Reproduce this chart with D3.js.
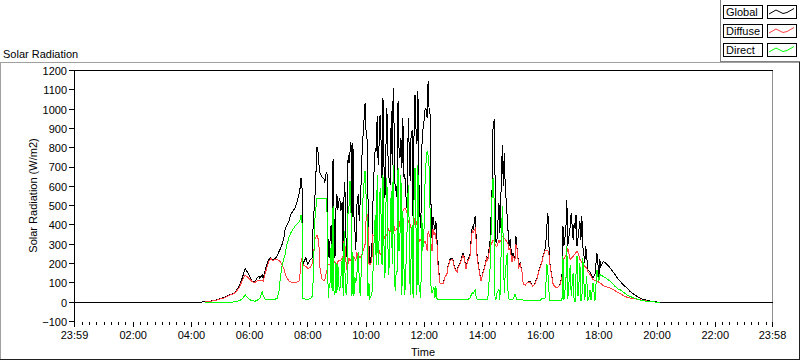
<!DOCTYPE html>
<html><head><meta charset="utf-8">
<script src="https://cdn.jsdelivr.net/npm/d3@7"></script>
<style>
html,body{margin:0;padding:0;background:#fff;}
svg{display:block;}
text{font-family:"Liberation Sans",Arial,sans-serif;font-size:11px;fill:#000;}
</style></head><body>
<svg id="c" width="800" height="361"></svg>
<script>
// time in minutes since midnight (23:59 of previous day = -1)
const times=[-1,258,268,278,289,299,309,320,326,332,338,342,346,351,353,357,361,365,371,375,379,381,386,388,392,396,400,404,408,412,417,421,423,427,431,433,437,441,445,450,454,458,462,464,466,468,470,472,476,480,485,489,491,495,499,501,503,505,509,513,515,518,520,522,524,526,528,530,532,534,536,538,540,542,544,546,548,551,553,555,557,559,561,563,565,567,569,571,573,575,577,579,581,584,586,588,590,592,594,596,598,600,602,604,606,608,612,614,616,619,621,623,625,627,629,631,633,635,637,639,641,643,645,647,650,652,654,656,658,660,662,664,666,668,670,672,674,676,678,680,682,685,687,689,691,693,695,697,699,701,703,705,707,709,711,713,715,717,720,722,724,726,728,730,732,734,736,738,740,742,744,746,748,752,759,763,767,769,773,777,779,783,788,790,794,798,800,802,806,810,814,819,821,825,827,829,833,837,841,845,849,851,856,860,862,864,866,868,870,874,876,881,883,885,887,891,893,895,897,901,903,907,909,911,915,918,922,924,928,932,934,938,942,944,948,953,955,959,963,965,969,971,973,975,977,979,983,986,990,994,1000,1004,1006,1008,1012,1014,1016,1021,1023,1027,1029,1031,1033,1035,1037,1039,1041,1043,1045,1047,1051,1053,1055,1057,1060,1062,1064,1068,1072,1076,1078,1080,1082,1084,1089,1093,1099,1103,1107,1113,1119,1124,1128,1134,1140,1144,1148,1155,1161,1165,1171,1179,1186,1192,1200,1206,1438];
const globalRad=[0,0,2,5,10,18,25,40,45,58,80,105,135,175,165,150,130,110,105,125,135,125,140,120,165,200,222,230,215,225,240,265,275,300,340,375,400,420,455,475,490,520,560,590,645,600,200,210,230,195,220,230,400,560,805,780,710,670,650,640,620,675,660,260,230,330,400,280,740,430,230,480,560,480,520,540,470,520,200,620,560,300,230,760,720,780,830,420,825,450,380,270,500,560,420,520,620,780,870,950,1030,890,850,550,300,195,264,489,650,800,782,964,713,820,972,834,644,1058,713,540,800,1006,782,650,609,989,713,1110,900,575,600,540,1041,800,748,850,696,954,650,661,560,471,954,800,627,880,886,420,870,1075,900,817,1093,627,450,385,800,886,950,1006,1000,954,1145,1000,972,500,333,441,400,372,420,342,230,100,97,134,152,186,221,229,221,177,160,186,203,238,255,238,177,221,238,393,376,445,342,238,169,108,152,186,238,221,325,601,929,938,652,307,325,515,360,816,601,773,601,445,360,290,325,221,255,221,342,290,186,203,152,95,88,100,105,108,90,83,95,130,152,186,215,238,273,320,400,462,300,203,134,91,80,74,91,134,393,290,376,531,290,393,462,324,411,380,454,290,330,376,419,324,445,290,203,290,240,169,160,155,143,125,143,255,203,117,221,186,212,205,190,178,165,145,122,109,96,82,70,57,48,36,27,22,14,10,5,3,1,0,0];
const diffuseRad=[null,null,1,4,9,16,23,37,42,54,74,95,118,140,135,128,118,106,102,110,113,110,113,110,148,183,212,226,213,221,222,215,210,195,170,150,125,110,105,103,103,105,110,150,210,230,200,190,185,175,180,200,230,330,345,330,290,180,120,113,115,150,170,195,195,195,200,200,210,215,205,200,195,210,215,215,215,230,190,345,280,200,165,200,230,215,220,220,230,235,225,215,260,225,235,230,240,250,265,280,300,420,460,400,200,195,210,350,345,340,350,368,298,270,247,255,264,350,340,330,340,350,385,370,368,380,385,420,390,368,375,385,368,390,420,445,471,471,480,488,480,460,420,410,402,385,368,350,400,437,420,402,350,330,316,320,350,298,310,316,300,264,368,350,340,300,264,380,350,360,330,320,203,100,97,130,148,180,215,222,215,172,155,180,198,230,245,232,172,215,230,370,360,380,320,232,165,108,150,182,230,215,290,310,320,320,300,290,290,320,310,340,335,330,325,310,300,270,280,210,240,215,300,280,182,195,150,95,88,100,103,105,88,82,93,125,148,180,212,235,265,268,268,265,250,200,130,90,80,74,90,130,221,225,240,255,280,221,228,238,245,250,258,264,255,240,221,215,205,195,185,180,178,160,150,143,135,117,112,108,106,104,100,98,86,82,76,74,68,60,50,45,38,30,24,22,19,17,15,12,10,6,5,2,0,0,null];
const directRad=[null,null,0,0,0,0,0,0,1,3,8,12,20,40,30,20,12,8,5,10,15,20,55,35,15,12,12,12,12,15,20,60,120,190,230,245,300,335,360,380,395,405,415,425,450,420,20,18,15,15,18,30,110,450,540,535,535,535,535,535,535,535,450,20,80,100,300,60,500,60,40,210,50,200,80,60,120,230,30,370,110,40,100,480,500,625,480,30,260,30,130,100,140,260,120,30,150,260,570,620,680,560,450,30,100,22,39,125,281,454,195,661,195,333,592,450,195,661,300,125,506,644,300,143,420,575,200,713,300,56,150,160,696,264,350,661,39,471,200,39,160,402,609,400,39,247,400,22,540,696,400,39,713,91,60,22,454,264,400,661,731,782,760,700,480,80,49,60,80,20,82,20,15,15,15,15,15,15,15,15,15,15,15,15,15,15,15,15,15,15,20,49,45,65,30,15,15,15,15,15,15,15,186,566,644,532,14,14,49,65,14,497,307,49,150,255,30,15,15,15,15,40,30,15,15,15,15,10,10,10,10,10,10,10,10,10,10,10,20,20,20,100,195,150,60,10,8,8,8,8,8,10,238,14,100,290,14,194,31,152,5,5,150,238,31,100,203,10,10,229,10,80,134,5,30,65,10,100,5,169,134,110,143,140,134,128,117,110,100,83,69,64,57,45,35,30,26,19,14,11,7,5,3,2,0,0,null];

const yTicks=[-100,0,100,200,300,400,500,600,700,800,900,1000,1100,1200];
const xTickMinutes=[-1,120,240,360,480,600,720,840,960,1080,1200,1320,1438];
const xTickLabels=["23:59","02:00","04:00","06:00","08:00","10:00","12:00","14:00","16:00","18:00","20:00","22:00","23:58"];
const xMinorMinutes=d3.range(0,1440,15).filter(m=>m%120!==0||m===0);
const seriesNames=["Global","Diffuse","Direct"];
const seriesColors=["#000000","#ff4040","#00ff00"];

const svg=d3.select("#c");
const plot={left:74,right:772,top:70,bottom:321};
const x=d3.scaleLinear().domain([-1,1438]).range([plot.left,plot.right]);
const y=d3.scaleLinear().domain([-100,1200]).range([plot.bottom,plot.top]);

// outer panel frame
const frame=svg.append("g").attr("shape-rendering","crispEdges");
frame.append("line").attr("x1",0).attr("x2",800).attr("y1",62.5).attr("y2",62.5).attr("stroke","#a0a0a0");
frame.append("line").attr("x1",0.5).attr("x2",0.5).attr("y1",62).attr("y2",360).attr("stroke","#a0a0a0");
frame.append("line").attr("x1",0).attr("x2",800).attr("y1",359.5).attr("y2",359.5).attr("stroke","#202020");
frame.append("line").attr("x1",799.5).attr("x2",799.5).attr("y1",62).attr("y2",360).attr("stroke","#202020");

// legend panel
const lg=svg.append("g").attr("shape-rendering","crispEdges");
lg.append("rect").attr("x",720).attr("y",0).attr("width",80).attr("height",62).attr("fill","#fff");
lg.append("line").attr("x1",720.5).attr("x2",720.5).attr("y1",0).attr("y2",62).attr("stroke","#808080");
lg.append("line").attr("x1",720).attr("x2",800).attr("y1",61.5).attr("y2",61.5).attr("stroke","#808080");
seriesNames.forEach((n,i)=>{
  const top=5+i*19;
  lg.append("rect").attr("x",723.5).attr("y",top+0.5).attr("width",39).attr("height",13).attr("fill","#fff").attr("stroke","#000");
  lg.append("text").attr("x",726).attr("y",top+11).attr("shape-rendering","auto").text(n);
  lg.append("rect").attr("x",767.5).attr("y",top+0.5).attr("width",29).attr("height",13).attr("fill","#fff").attr("stroke","#000");
  const zz=[[2,9],[9,5],[16,8.5],[20,7.5],[27,3.5]].map(p=>[767+p[0],top+p[1]]);
  svg.append("path").attr("d",d3.line()(zz)).attr("fill","none").attr("stroke",seriesColors[i]).attr("stroke-width",1);
});

// titles
svg.append("text").attr("x",3).attr("y",58).text("Solar Radiation");
svg.append("text").attr("transform",`translate(37,${(plot.top+plot.bottom)/2}) rotate(-90)`).attr("text-anchor","middle").text("Solar Radiation (W/m2)");
svg.append("text").attr("x",(plot.left+plot.right)/2).attr("y",356).attr("text-anchor","middle").text("Time");

// plot frame
const pf=svg.append("g").attr("shape-rendering","crispEdges");
pf.append("line").attr("x1",plot.right+0.5).attr("x2",plot.right+0.5).attr("y1",plot.top).attr("y2",plot.bottom+1).attr("stroke","#909090");

// data lines
const idx=times.map((t,i)=>i);
const clip=svg.append("clipPath").attr("id","pc").append("rect").attr("x",plot.left).attr("y",plot.top).attr("width",plot.right-plot.left+1).attr("height",plot.bottom-plot.top+1);
const lines=svg.append("g").attr("clip-path","url(#pc)");
[globalRad,diffuseRad,directRad].forEach((vals,k)=>{
  const gen=d3.line().defined(i=>vals[i]!=null).x(i=>x(times[i])+0.5).y(i=>y(vals[i])+0.5);
  lines.append("path").attr("d",gen(idx)).attr("fill","none").attr("stroke",seriesColors[k]).attr("stroke-width",1).attr("shape-rendering","crispEdges");
});

// axes
const yAxis=svg.append("g").attr("transform",`translate(${plot.left},0)`)
  .call(d3.axisLeft(y).tickValues(yTicks).tickSize(5).tickPadding(2).tickFormat(d3.format("d")));
yAxis.select(".domain").remove();
yAxis.selectAll("line").attr("shape-rendering","crispEdges");
yAxis.selectAll("text").attr("dy","0.4em").style("font-family",'"Liberation Sans",Arial,sans-serif').style("font-size","11px");

const xMinor=svg.append("g").attr("transform",`translate(0,${plot.bottom+1})`)
  .call(d3.axisBottom(x).tickValues(xMinorMinutes).tickSize(3).tickFormat(""));
xMinor.select(".domain").remove();
xMinor.selectAll("line").attr("shape-rendering","crispEdges");

const xAxis=svg.append("g").attr("transform",`translate(0,${plot.bottom+1})`)
  .call(d3.axisBottom(x).tickValues(xTickMinutes).tickSize(5).tickPadding(4).tickFormat((d,i)=>xTickLabels[i]));
xAxis.select(".domain").remove();
xAxis.selectAll("line").attr("shape-rendering","crispEdges");
xAxis.selectAll("text").style("font-family",'"Liberation Sans",Arial,sans-serif').style("font-size","11px");

// axis frame lines (top and left black)
pf.append("line").attr("x1",plot.left).attr("x2",plot.right+1).attr("y1",plot.top+0.5).attr("y2",plot.top+0.5).attr("stroke","#000");
svg.append("line").attr("x1",plot.left+0.5).attr("x2",plot.left+0.5).attr("y1",plot.top).attr("y2",plot.bottom+1).attr("stroke","#000").attr("shape-rendering","crispEdges");
</script>
</body></html>
